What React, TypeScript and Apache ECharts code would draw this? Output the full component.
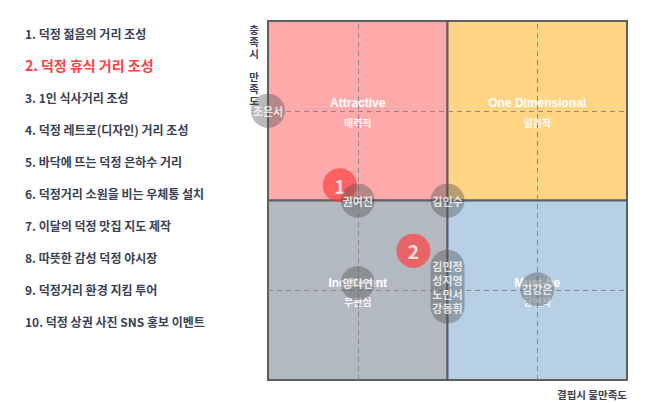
import { useEffect, useRef } from 'react';
import * as echarts from 'echarts';

const listItems = [
  '1. 덕정 젊음의 거리 조성',
  '2. 덕정 휴식 거리 조성',
  '3. 1인 식사거리 조성',
  '4. 덕정 레트로(디자인) 거리 조성',
  '5. 바닥에 뜨는 덕정 은하수 거리',
  '6. 덕정거리 소원을 비는 우체통 설치',
  '7. 이달의 덕정 맛집 지도 제작',
  '8. 따뜻한 감성 덕정 야시장',
  '9. 덕정거리 환경 지킴 투어',
  '10. 덕정 상권 사진 SNS 홍보 이벤트',
];
const highlightIndex = 1;

const quadrantNames = ['Attractive', 'One Dimensional', 'Indifferent', 'Must-be'];
const quadrantSubNames = ['매력적', '일원적', '무관심', '당연적'];
const quadrantColors = ['#FFAAAA', '#FFD485', '#B3B9C1', '#B8D0E6'];
const quadrantXRanges = [[0, 2], [2, 4], [0, 2], [2, 4]];
const quadrantYRanges = [[2, 4], [2, 4], [0, 2], [0, 2]];

const personGroups = [
  ['조은서'],
  ['권여진'],
  ['김인수'],
  ['양다연'],
  ['김민정', '성지영', '노민서', '강동휘'],
  ['김강은'],
];
const personX = [0, 1, 2, 1, 2, 3];
const personY = [3, 2, 2, 1.08, 1.04, 1.01];

const markerLabels = ['1', '2'];
const markerX = [0.8, 1.62];
const markerY = [2.17, 1.44];

const yAxisTitle = '충족시 만족도';
const xAxisTitle = '결핍시 불만족도';
const axisMin = 0;
const axisMax = 4;
const dashedAt = [1, 3];

const FONT = "'Noto Sans CJK KR', 'Noto Sans', sans-serif";

export default function App() {
  const ref = useRef<HTMLDivElement>(null);
  useEffect(() => {
    if (!ref.current) return;
    const chart = echarts.init(ref.current, null, { renderer: 'svg' });

    const capsule = (n: number) => {
      const h = 34 + (n - 1) * 13.3;
      return {
        symbol: n === 1 ? 'circle' : `path://M0,17A17,17,0,0,1,34,17L34,${h - 17}A17,17,0,0,1,0,${h - 17}Z`,
        size: n === 1 ? 34 : [34, h],
      };
    };

    const graphics: any[] = listItems.map((t, i) => ({
      type: 'text',
      x: 25,
      y: 33 + i * 32,
      silent: true,
      style: {
        text: t,
        fill: i === highlightIndex ? '#FF4141' : '#3A4152',
        font: `bold ${i === highlightIndex ? 14 : 12}px ${FONT}`,
        verticalAlign: 'middle',
        align: 'left',
      },
    }));
    graphics.push({
      type: 'text',
      x: 254,
      y: 24,
      silent: true,
      style: {
        text: yAxisTitle.split('').map((c) => (c === ' ' ? '' : c)).join('\n'),
        fill: '#3A4152',
        font: `bold 10.5px ${FONT}`,
        lineHeight: 11.7,
        align: 'center',
        verticalAlign: 'top',
      },
    });
    graphics.push({
      type: 'text',
      x: 627,
      y: 394,
      silent: true,
      style: {
        text: xAxisTitle,
        fill: '#3A4152',
        font: `bold 10.5px ${FONT}`,
        align: 'right',
        verticalAlign: 'middle',
      },
    });

    chart.setOption({
      animation: false,
      backgroundColor: '#ffffff',
      grid: { left: 268, top: 21, width: 359, height: 359, show: false },
      xAxis: {
        type: 'value', min: axisMin, max: axisMax, interval: 1,
        axisLine: { show: false }, axisTick: { show: false },
        axisLabel: { show: false }, splitLine: { show: false },
      },
      yAxis: {
        type: 'value', min: axisMin, max: axisMax, interval: 1,
        axisLine: { show: false }, axisTick: { show: false },
        axisLabel: { show: false }, splitLine: { show: false },
      },
      graphic: graphics,
      series: [
        {
          type: 'scatter',
          z: 3,
          symbol: 'circle',
          symbolSize: 34,
          itemStyle: { color: 'rgba(255,60,60,0.85)' },
          label: {
            show: true,
            position: 'inside',
            color: '#ffffff',
            fontSize: 19,
            fontWeight: 'bold',
            fontFamily: FONT,
            formatter: (p: any) => p.name,
          },
          data: markerLabels.map((n, i) => ({ name: n, value: [markerX[i], markerY[i]] })),
          markArea: {
            silent: true,
            z: 1,
            data: quadrantNames.map((name, i) => [
              {
                coord: [quadrantXRanges[i][0], quadrantYRanges[i][0]],
                itemStyle: { color: quadrantColors[i], borderColor: '#5F5F5F', borderWidth: 2, opacity: 1 },
                label: {
                  show: true,
                  position: 'inside',
                  offset: [0, 2],
                  formatter: `{a|${name}}\n{b|${quadrantSubNames[i]}}`,
                  rich: {
                    a: { color: '#ffffff', fontSize: 12, fontWeight: 'bold', fontFamily: 'Arial, Liberation Sans, sans-serif', lineHeight: 19 },
                    b: { color: 'rgba(255,255,255,0.92)', fontSize: 10, fontWeight: 'bold', fontFamily: FONT, lineHeight: 19 },
                  },
                },
              },
              { coord: [quadrantXRanges[i][1], quadrantYRanges[i][1]] },
            ]),
          },
          markLine: {
            silent: true,
            symbol: ['none', 'none'],
            label: { show: false },
            lineStyle: { type: [5, 4], color: '#8A8A8A', width: 1 },
            data: [
              ...dashedAt.map((v) => ({ xAxis: v })),
              ...dashedAt.map((v) => ({ yAxis: v })),
            ],
          },
        },
        {
          type: 'scatter',
          z: 5,
          itemStyle: { color: 'rgba(80,80,80,0.5)' },
          label: {
            show: true,
            position: 'inside',
            color: '#ffffff',
            fontSize: 11,
            fontWeight: 'bold',
            fontFamily: FONT,
            lineHeight: 14,
            formatter: (p: any) => p.name,
          },
          data: personGroups.map((g, i) => {
            const c = capsule(g.length);
            return {
              name: g.join('\n'),
              value: [personX[i], personY[i]],
              symbol: c.symbol,
              symbolSize: c.size,
            };
          }),
        },
      ],
    });
    return () => chart.dispose();
  }, []);
  return <div ref={ref} style={{ position: 'fixed', left: 0, top: 0, width: 649, height: 403 }} />;
}
